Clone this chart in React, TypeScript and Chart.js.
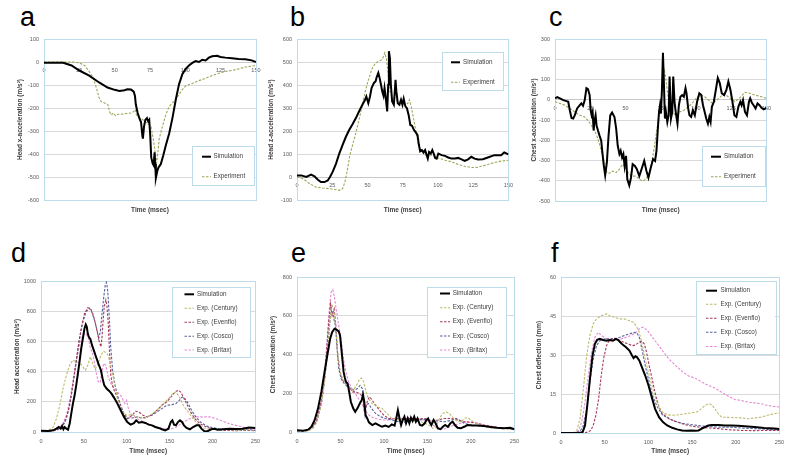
import React, { useEffect, useRef } from 'react';
import { Chart, registerables } from 'chart.js';
Chart.register(...registerables);

type P = [number, number][];
const FONT = "'Liberation Sans', Arial, sans-serif";
Chart.defaults.font.family = FONT;

// ---------- data (time msec, value) ----------
const A_SIM: P = [[0,-3],[13.6,-3],[19.5,-15],[25,-37],[32,-59],[39,-89],[45,-111],[50,-121],[53.4,-126],[57,-123],[59,-119],[61.6,-120],[63.5,-129],[64.4,-148],[65,-185],[66.3,-222],[67.5,-244],[68.7,-262],[69.6,-319],[70,-333],[70.8,-281],[71.7,-252],[72.9,-244],[73.8,-259],[74.5,-252],[75.2,-319],[75.9,-415],[76.9,-441],[77.6,-449],[78.3,-393],[78.7,-444],[79.2,-504],[80.2,-474],[81,-459],[82.7,-444],[84.4,-407],[86.2,-363],[88.6,-311],[90.9,-244],[93.3,-163],[95.6,-96],[98,-52],[100.3,-30],[102.6,-15],[105,-4],[107.3,4],[109.7,0],[112,10],[114.4,7],[116.7,19],[119,25],[122.6,27],[124.9,22],[128.4,19],[133,16],[137.8,13],[142.5,12],[147,7],[150,0]];
const A_EXP: P = [[0,0],[20.6,0],[25,-4],[28.8,-15],[32.3,-44],[34.7,-67],[37,-111],[39,-156],[40.5,-173],[42.9,-178],[45.2,-185],[46.4,-215],[47.6,-230],[49.2,-222],[50.6,-234],[52.3,-227],[54.6,-227],[58,-224],[61.6,-222],[63.5,-215],[64.7,-207],[65.4,-230],[67.5,-241],[71,-256],[73.4,-267],[75.7,-281],[77.3,-333],[78.7,-393],[79.7,-440],[80.6,-393],[81.6,-333],[83.4,-289],[86.2,-230],[88.6,-193],[90.9,-178],[93.3,-163],[95.6,-141],[98,-119],[100.3,-104],[105,-93],[109.7,-81],[114.4,-71],[119,-59],[123.7,-49],[128.4,-41],[133,-37],[137.8,-30],[142.5,-22],[147,-18],[150,-16]];

const B_SIM: P = [[0,7],[3,7],[6.6,0],[10,10],[12.4,3],[14.8,-12],[17,-22],[19.5,-22],[21.8,-15],[23.4,0],[25.3,22],[27.7,58],[30,102],[32.3,139],[34.7,175],[37,204],[39.4,229],[41.7,255],[44,285],[46.4,314],[48.3,336],[49.2,350],[50.6,321],[51.8,350],[52.9,387],[54.6,409],[55.8,416],[56.5,434],[57.7,453],[58.6,431],[59.6,401],[60.5,372],[61.4,353],[62.1,387],[63,343],[64,285],[64.7,401],[65.2,547],[65.9,518],[66.6,401],[67.5,328],[68.7,314],[69.4,372],[69.9,423],[70.5,372],[71.5,321],[72.7,314],[73.8,336],[74.8,314],[75.7,340],[76.9,307],[78,299],[79.2,270],[80.4,226],[81.6,223],[83,204],[84.4,193],[85.5,182],[86.5,139],[87.4,112],[88.6,117],[89.8,107],[90.9,117],[92,95],[92.8,80],[93.7,109],[94.9,102],[96,117],[97,102],[98,83],[99.1,80],[100.3,102],[102.6,95],[105,92],[107.3,85],[109.7,80],[112,80],[114.4,83],[116.7,77],[119,70],[121.4,77],[123.7,88],[126,80],[128.4,76],[131.9,77],[135.4,85],[140,95],[144.8,95],[147,107],[150,98]];
const B_EXP: P = [[0,0],[4.2,-7],[8.9,-29],[13.6,-44],[18.3,-48],[23,-51],[26.5,-54],[30,-58],[32.3,-51],[34,-22],[35.9,36],[37.5,95],[39.4,139],[41.7,190],[44,248],[46.4,314],[48.7,380],[51.1,431],[53.4,474],[55.8,496],[58,504],[60.5,511],[62.3,540],[63.5,511],[64.7,445],[65.9,372],[67.5,350],[69.9,336],[72.2,328],[74.5,321],[76.9,314],[78.7,321],[79.7,336],[81,307],[82.7,255],[84.4,197],[86.2,139],[88.6,109],[90.9,95],[95.6,95],[100.3,83],[105,73],[109.7,66],[114.4,54],[119,47],[123.7,41],[127.2,41],[130.8,47],[135.4,54],[140,63],[144.8,69],[150,73]];

const C_SIM: P = [[0,7],[1.6,13],[3.5,7],[5.9,-2],[8.2,-7],[9.4,-10],[10.5,-52],[11.7,-90],[12.9,-93],[14,-77],[15.7,-43],[17.6,-27],[18.7,-18],[19.9,-30],[21.1,-2],[22.3,57],[23.4,52],[24.6,23],[25.3,-52],[26,-77],[26.7,-60],[27.4,-152],[28.1,-102],[28.8,-77],[29.5,-127],[30.5,-152],[31.6,-177],[32.8,-202],[33.5,-252],[34.5,-318],[35.6,-373],[36.8,-310],[38,-177],[39.2,-77],[40.5,-63],[42.2,-85],[43.4,-143],[44.5,-227],[45.7,-268],[46.6,-252],[47.6,-285],[48.5,-268],[49.4,-327],[50.4,-277],[51.3,-393],[52.7,-423],[53.9,-385],[55.1,-318],[56.7,-327],[58.1,-343],[59.8,-377],[61.4,-343],[63.3,-302],[64.9,-352],[66.3,-385],[68,-335],[69.6,-293],[71,-302],[72,-252],[72.9,-152],[73.8,-60],[74.5,-27],[75.2,-68],[75.9,57],[76.6,232],[77.3,73],[78,-93],[78.7,-60],[79.7,-110],[80.6,-77],[81.3,115],[82.3,-93],[83.2,-60],[83.9,115],[84.8,-10],[85.8,-68],[86.9,-118],[87.9,-27],[89,15],[90.2,23],[91.4,15],[92.6,57],[93.3,32],[94.5,-43],[95.4,-77],[96.6,-85],[97.8,-52],[99.2,-77],[100.8,-10],[102.4,32],[103.8,23],[105,-27],[106.2,-60],[107.3,-93],[108.5,-118],[109.5,-85],[110.4,-110],[111.3,-35],[112.7,-10],[114.1,48],[115.5,107],[116.9,82],[118.3,32],[120,23],[121.6,48],[123,90],[124.5,48],[125.9,-10],[127.3,-77],[128.7,-85],[130.1,-35],[131.5,-10],[132.4,-27],[133.4,-2],[134.8,-60],[136.2,-77],[137.6,-10],[138.5,7],[139.7,-15],[140.9,-27],[142.3,-43],[143.7,-18],[145.1,-27],[146.5,-40],[148.1,-47],[150,-40]];
const C_EXP: P = [[0,-10],[3.5,-18],[7,-27],[10.5,-43],[14,-60],[17.6,-77],[21.1,-85],[23.4,-102],[25.8,-127],[28.1,-152],[30.5,-193],[32.8,-252],[35.2,-310],[36.8,-360],[38.7,-363],[41,-352],[43.4,-360],[45.7,-343],[48,-318],[50.4,-343],[52.7,-368],[55.1,-377],[57.4,-377],[59.8,-393],[62.1,-402],[64.5,-393],[66.8,-360],[69.1,-293],[71,-210],[72.7,-127],[74.3,-43],[75.7,15],[76.9,73],[77.8,140],[78.7,98],[79.9,32],[81.3,-27],[83.2,-60],[85.5,-77],[88.4,-60],[91.4,-52],[94.5,-35],[97.3,-18],[100.1,7],[103.1,23],[106.2,15],[109,-2],[111.8,-18],[114.8,-2],[117.9,18],[120.7,27],[124.2,7],[127.7,-10],[131.2,10],[134.8,37],[138.3,32],[141.8,23],[146.5,15],[150,7]];

const D_SIM: P = [[0,9],[8.4,7],[14.2,11],[18,22],[20.7,33],[23,22],[24.6,40],[26.1,18],[27.6,33],[29.6,22],[31.5,15],[33.4,55],[35.3,122],[37.2,188],[39.2,243],[41.1,310],[43,387],[44.9,465],[46.9,553],[48.8,619],[50.7,686],[52.2,712],[53.4,697],[54.5,653],[55.7,630],[57.6,615],[59.5,575],[61.5,542],[64.1,498],[66.8,454],[69.9,409],[71.8,354],[73.7,310],[76.4,288],[79.5,272],[82.2,254],[85.3,226],[89.1,188],[92.9,144],[96.8,100],[100.6,66],[104.5,49],[108.3,58],[111,77],[114,62],[117.9,66],[121.7,60],[125.6,49],[129.4,44],[133.3,33],[137.1,27],[141,18],[144.8,11],[148.6,22],[151.3,66],[153.2,77],[155.1,49],[157.4,44],[159.7,66],[162,77],[164.4,66],[166.7,44],[169.7,27],[173.6,18],[177.4,33],[181.3,44],[184.3,44],[187,22],[190.8,4],[194.7,7],[198.5,18],[202.3,22],[206.2,15],[211.9,18],[219.5,22],[227.2,20],[234.9,22],[242.6,29],[250,27]];
const D_CEN: P = [[0,4],[8.4,9],[14.2,33],[18,88],[21.9,177],[25.7,288],[29.6,376],[33.4,442],[37.2,476],[41.1,465],[44.9,460],[48.8,431],[51.8,409],[54.5,442],[57.6,498],[60.3,454],[63,416],[66,442],[69.9,509],[73,535],[75.6,527],[78.3,509],[81.4,431],[85.3,332],[89.1,221],[92.9,155],[96.8,122],[100.6,111],[106.4,115],[112.1,100],[119.8,88],[127.5,111],[135.2,144],[142.9,188],[148.6,221],[153.6,254],[157.4,265],[161.3,232],[165.9,177],[171.7,133],[177.4,88],[183.2,49],[189,27],[196.6,18],[206.2,15],[215.8,18],[227.2,11],[238.7,15],[250,11]];
const D_EVE: P = [[0,4],[12.3,7],[18,11],[23.8,33],[27.6,66],[31.5,133],[35.3,243],[39.2,398],[43,553],[46.9,686],[50.7,785],[54.5,823],[57.6,819],[60.3,785],[63,730],[66,653],[68,597],[69.9,564],[71,619],[72.2,719],[73.7,830],[75.6,874],[76.8,841],[78.3,730],[79.9,531],[81.4,376],[83.3,310],[86,265],[89.1,232],[92.9,166],[96.8,111],[100.6,88],[106.4,111],[110.2,137],[114,133],[119,111],[123.6,100],[129.4,115],[135.2,144],[140.9,177],[146.7,199],[152.5,239],[156.3,265],[160.2,277],[162.9,265],[165.9,232],[169.7,188],[174.4,133],[179.4,88],[185.1,55],[192.8,33],[200.5,18],[212,11],[227.2,9],[238.7,11],[250,9]];
const D_COS: P = [[0,7],[12.3,9],[20,18],[25.7,44],[29.6,88],[33.4,177],[37.2,310],[41.1,465],[44.9,619],[48.8,730],[52.6,796],[56.5,819],[59.2,796],[62.3,741],[65.3,675],[67.3,619],[69.2,664],[71,774],[73,885],[74.9,973],[76.4,991],[77.9,929],[79.5,774],[81.4,553],[83.7,398],[86.4,310],[89.1,243],[92.9,177],[96.8,122],[100.6,93],[106.4,93],[112.1,100],[117.9,93],[123.6,100],[129.4,111],[135.2,133],[140.9,155],[146.7,177],[152.5,181],[157.4,188],[161.3,210],[164.7,232],[167.8,221],[171.7,188],[175.5,144],[180.5,100],[185.9,66],[192.8,40],[200.5,27],[212,18],[227.2,15],[238.7,18],[250,11]];
const D_BRI: P = [[0,4],[12.3,9],[20,18],[25.7,55],[29.6,111],[33.4,199],[37.2,332],[41.1,465],[44.9,575],[48.8,642],[52.6,653],[55.3,619],[57.6,553],[59.5,531],[61.5,487],[64.1,398],[66.8,332],[69.1,327],[71,398],[73,454],[75.6,442],[78.3,365],[81.4,321],[85.3,288],[89.1,265],[92.9,243],[95.9,210],[97.9,188],[99.8,210],[101.4,166],[103.3,133],[106.4,111],[112.1,88],[119.8,66],[127.5,49],[135.2,33],[142.9,22],[150.5,18],[158.2,33],[165.9,66],[173.6,88],[181.3,100],[188.9,100],[196.6,100],[204.3,88],[212,71],[219.7,55],[227.3,44],[235,33],[242.6,22],[250,18]];

const E_SIM: P = [[0,9],[7.2,7],[12.8,12],[16.6,27],[20.4,62],[24.2,122],[28,207],[31.7,310],[35.5,413],[38.1,481],[40.4,515],[43.1,533],[45.7,527],[48,519],[49.5,498],[51,430],[52.5,361],[53.6,310],[55.1,279],[56.3,259],[58.2,250],[60,207],[61.9,156],[64.6,122],[66.9,104],[69.5,122],[72.2,147],[74.4,164],[75.9,193],[77.4,156],[78.9,87],[80.8,70],[82.7,50],[86.5,36],[90.3,45],[94,36],[97.8,27],[101.6,33],[105.4,26],[109.1,39],[112.2,33],[114.1,70],[116,113],[117.9,70],[119.7,36],[121.6,62],[123.5,79],[125.4,45],[127.3,70],[129.2,45],[131,74],[132.9,57],[134.8,79],[136.7,53],[138.6,70],[141.3,36],[143.9,33],[146.9,45],[148.8,62],[150.7,70],[152.6,50],[154.5,36],[157.1,62],[159.4,45],[162,19],[165.1,15],[167.7,27],[170.4,36],[173.4,27],[176.4,45],[179,53],[181.6,36],[184.7,22],[188.4,19],[192.2,27],[196,36],[201.7,33],[207.3,33],[214.9,31],[222.4,26],[230,22],[237.5,19],[245.1,22],[250,14]];
const E_CEN: P = [[0,5],[11,5],[16.6,15],[22.3,45],[28,139],[31.7,259],[35.5,430],[38.1,584],[40,661],[41.9,635],[44.2,550],[46.8,413],[49.5,310],[52.5,276],[56.3,250],[60,233],[63.8,216],[67.6,233],[71.4,267],[74,279],[76.7,259],[78.9,216],[82,173],[86.5,147],[92.2,130],[97.8,122],[103.5,96],[109.1,70],[116.7,62],[126.1,62],[135.6,57],[145,50],[152.6,33],[156.3,19],[160.1,27],[163.9,70],[167.7,96],[171.5,104],[175.2,96],[180.2,70],[184.7,53],[189.2,53],[192.2,70],[196,74],[199.8,62],[205.5,45],[213,33],[222.4,22],[233.8,19],[250,14]];
const E_EVE: P = [[0,5],[11,7],[16.6,19],[22.3,53],[28,156],[31.7,276],[34.5,447],[36.7,584],[38.6,661],[40.4,601],[42.8,635],[45,533],[46.8,396],[49.5,310],[52.5,267],[56.3,250],[60,233],[63.8,207],[67.6,207],[71.4,199],[74,190],[75.9,173],[77.4,104],[78.9,122],[81.2,164],[83.5,182],[86.5,164],[90.3,139],[94.8,113],[99.7,87],[105.4,70],[113,70],[120.5,67],[128.1,70],[137.5,67],[147,70],[154.5,57],[162,62],[169.6,70],[177.2,70],[184.7,62],[192.2,53],[199.8,50],[207.3,45],[214.9,36],[226.2,26],[237.5,19],[250,14]];
const E_COS: P = [[0,5],[12.8,7],[18.5,22],[24.2,70],[29.1,173],[32.8,310],[35.5,447],[37.4,550],[39.3,635],[41.2,610],[42.8,575],[44.2,550],[46.1,430],[48,327],[50.6,276],[54.4,250],[58.2,233],[61.9,224],[65.7,216],[69.5,224],[72.5,241],[75.2,224],[76.7,147],[78.2,87],[79.7,139],[82,147],[85.7,122],[90.3,96],[95.9,79],[101.6,70],[109.1,62],[116.7,53],[124.2,50],[131.8,57],[139.4,62],[146.9,65],[154.5,57],[162,57],[169.6,53],[177.2,60],[182.8,70],[186.6,62],[192.2,45],[199.8,36],[207.3,33],[218.7,27],[230,22],[250,15]];
const E_BRI: P = [[0,5],[11,9],[16.6,22],[22.3,62],[28,173],[31.7,310],[34.8,481],[37.4,652],[39.3,721],[41.2,735],[43.1,695],[45,635],[48,550],[50.6,481],[53.3,378],[56.3,310],[59.3,259],[63.1,224],[66.9,199],[70.6,173],[75.2,139],[79.7,104],[84.6,79],[90.3,70],[97.8,62],[105.4,62],[112.9,67],[120.5,70],[128.1,74],[135.6,70],[143.2,65],[150.7,57],[156.3,36],[162,19],[167.7,14],[173.4,22],[181,36],[188.4,45],[196,53],[203.5,50],[211.1,39],[218.7,33],[230,24],[241.3,19],[250,14]];

const F_SIM: P = [[0,0],[21.8,0],[24.8,0.4],[27.5,2.9],[30.1,10.6],[33.1,20.8],[36.1,29.8],[38.8,34.3],[41.4,35.8],[44.4,36.2],[48.2,35.8],[52,35.5],[55.7,35.8],[59.5,35.5],[62.5,36.2],[65.2,35.8],[67.8,34.9],[70.8,33.9],[74.5,33],[78.3,31.7],[81.3,29.8],[83.1,28.8],[85.1,29.5],[86.9,29.2],[89.6,27.9],[92.6,25.3],[96.4,22.1],[100.2,18.3],[103.9,13.8],[107.7,9.3],[112.2,6.1],[116.7,4.2],[121.6,2.9],[127.3,2],[132.9,1.4],[138.6,1],[144.2,0.9],[149.9,1],[153.6,0.9],[157.4,1],[161.1,1.7],[164.9,2.3],[168.7,2.9],[172.4,3.1],[180,3.1],[187.5,2.9],[195,2.9],[202.6,2.8],[210.1,2.6],[221.4,2.3],[232.7,1.9],[244,1.7],[250,1.5]];
const F_CEN: P = [[0,0],[14.3,0.1],[18.1,1],[21.8,5.5],[25.6,17],[29.4,29.8],[33.1,37.5],[36.9,42],[40.7,43.9],[46.4,45.1],[52,45.8],[55.7,45.1],[61.4,44.5],[67,43.9],[72.7,43.9],[78.3,43.2],[82.8,42.6],[85.8,41.3],[88.9,39.4],[91.5,36.2],[94.1,32.4],[97.2,27.2],[100.9,22.1],[104.7,17.6],[108.4,13.2],[112.2,10],[116,8.1],[121.6,7],[127.3,6.8],[134.8,7],[142.3,7.4],[149.9,7.8],[155.5,8.1],[160.4,9.3],[164.9,10.6],[169.4,11.3],[172.4,10.9],[176.2,9.3],[180,7.4],[183.7,6.1],[191.3,6],[198.8,5.9],[206.3,5.8],[213.9,5.5],[221.4,5.8],[228.9,6.1],[236.4,6.8],[244,7.4],[250,7.8]];
const F_EVE: P = [[0,0],[25.6,0],[31.3,0.4],[34,1],[37,3],[40,7],[43,13],[46,22],[49,29],[52,33.5],[55,35.5],[58,36.2],[61.4,36.4],[65.1,36],[70,35.2],[76,34.3],[82,33.6],[85,33.8],[89,34.8],[92.3,35.3],[95.3,34.3],[97.9,31.1],[100.9,26],[104.7,20.2],[108.4,14.5],[112.2,10],[116,7.4],[121.6,6.1],[127.3,4.9],[134.8,4],[142.3,3.2],[149.9,2.6],[157.4,2.3],[164.9,2],[172.4,1.9],[180,1.7],[187.5,1.4],[195,1.2],[206.3,1],[221.4,0.9],[236.4,1],[250,1]];
const F_COS: P = [[0,0],[16.2,0.1],[21.8,0.6],[25.6,2.9],[29.4,9.3],[33.1,19.6],[36.9,28.5],[40.7,33.6],[44.4,35.5],[50.1,36.2],[55.7,36.2],[61.4,36.2],[67,36.8],[72.7,37.5],[78.3,38.1],[84,38.7],[87,38.5],[89.6,36.8],[92.6,32.4],[96.4,26],[100.9,19.6],[105.4,13.8],[110.3,10],[116,7],[123.5,5.5],[131,4.5],[140.4,3.6],[149.9,3.2],[161.1,2.7],[172.4,2.4],[183.7,2.2],[195,2.2],[206.3,1.9],[221.4,1.7],[236.4,1.4],[250,1.2]];
const F_BRI: P = [[0,0],[16.2,0.1],[20,1],[23.7,4.2],[27.5,11.9],[31.3,22.1],[35,31.1],[38.8,36.8],[42.5,38.7],[46.3,37.5],[52,36.2],[57.6,35.8],[63.3,35.5],[68.9,36.2],[74.5,36.8],[80.2,37.5],[85.8,38.7],[90.4,40.3],[94.1,40.7],[99,39.4],[104.7,36.8],[110.4,34.3],[116,31.7],[123.5,28.5],[131.1,26],[138.6,23.7],[146.1,21.9],[153.6,21.1],[161.1,19.6],[168.7,18.3],[176.2,17.3],[183.7,15.7],[191.3,14.2],[198.8,12.9],[206.3,12.5],[213.9,11.9],[221.4,11.6],[228.9,11.3],[236.4,10.6],[244,10.2],[250,10]];

// ---------- labels ----------
const X_TITLE = 'Time (msec)';
const Y_TITLES = ['Head x-acceleration (m/s²)', 'Head z-acceleration (m/s²)', 'Chest x-acceleration (m/s²)', 'Head acceleration (m/s²)', 'Chest acceleration (m/s²)', 'Chest deflection (mm)'];
const PANEL_LETTERS = ['a', 'b', 'c', 'd', 'e', 'f'];
const NAMES_2 = ['Simulation', 'Experiment'];
const NAMES_5 = ['Simulation', 'Exp. (Century)', 'Exp. (Evenflo)', 'Exp. (Cosco)', 'Exp. (Britax)'];
const Y_RANGES: [number, number, number][] = [[-600, 100, 100], [-100, 600, 100], [-500, 300, 100], [0, 1000, 200], [0, 800, 200], [0, 60, 15]];

// ---------- styles ----------
const STYLE_SIM = { color: '#000000', width: 2, dash: [] as number[] };
const STYLE_EXP = { color: '#9aa85a', width: 1.1, dash: [2.5, 1.5] };
const STYLE_CEN = { color: '#bdbb6c', width: 1.1, dash: [2.5, 1.5] };
const STYLE_EVE = { color: '#a8385a', width: 1.1, dash: [2.5, 1.5] };
const STYLE_COS = { color: '#55609e', width: 1.1, dash: [2.5, 1.5] };
const STYLE_BRI = { color: '#e48ad6', width: 1.1, dash: [2.5, 1.5] };

type Layout = { L: number; T: number; W: number; H: number; padTop: number; padRight: number; yw: number; xh: number; top: boolean; xmax: number; xstep: number; xpad: number;
  legend: { box: number[]; items: number[]; line: number[]; text: number }; letter: [number, number] };

const LAYOUTS: Layout[] = [
  { L: 14, T: 30, W: 252, H: 186, padTop: 9, padRight: 8, yw: 30, xh: 16, top: true, xmax: 150, xstep: 25, xpad: 5.5,
    legend: { box: [192, 146, 254, 185], items: [156.7, 176.7], line: [202, 211], text: 213.5 }, letter: [20, 4] },
  { L: 265, T: 30, W: 253, H: 186, padTop: 9, padRight: 8, yw: 32, xh: 16, top: true, xmax: 150, xstep: 25, xpad: 5,
    legend: { box: [442, 52, 503, 90], items: [62.3, 82.3], line: [451, 460], text: 463 }, letter: [290, 4] },
  { L: 528, T: 30, W: 248, H: 186, padTop: 9, padRight: 8, yw: 27, xh: 15, top: true, xmax: 150, xstep: 25, xpad: 5,
    legend: { box: [702, 146, 765, 186], items: [156.7, 176.7], line: [711, 721], text: 724 }, letter: [549, 4] },
  { L: 11, T: 272, W: 255, H: 185, padTop: 9, padRight: 8, yw: 30, xh: 25, top: false, xmax: 250, xstep: 50, xpad: 6,
    legend: { box: [172, 287, 250, 357], items: [294.3, 308.3, 322.3, 336.3, 350], line: [184.5, 194], text: 197 }, letter: [11, 240] },
  { L: 267, T: 268, W: 258, H: 189, padTop: 9, padRight: 8, yw: 30, xh: 25, top: false, xmax: 250, xstep: 50, xpad: 6,
    legend: { box: [427, 287, 506, 357], items: [293.5, 307.7, 321.7, 336, 350], line: [440, 450], text: 452.7 }, letter: [291, 240] },
  { L: 533, T: 268, W: 257, H: 189, padTop: 9, padRight: 8, yw: 28, xh: 24, top: false, xmax: 250, xstep: 50, xpad: 6,
    legend: { box: [695.5, 281, 775, 354], items: [290.7, 304.3, 318.3, 332.3, 346.5], line: [706, 717], text: 720.5 }, letter: [551, 240] },
];

const SERIES: { data: P; name: string; style: typeof STYLE_SIM }[][] = [
  [{ data: A_SIM, name: NAMES_2[0], style: STYLE_SIM }, { data: A_EXP, name: NAMES_2[1], style: STYLE_EXP }],
  [{ data: B_SIM, name: NAMES_2[0], style: STYLE_SIM }, { data: B_EXP, name: NAMES_2[1], style: STYLE_EXP }],
  [{ data: C_SIM, name: NAMES_2[0], style: STYLE_SIM }, { data: C_EXP, name: NAMES_2[1], style: STYLE_EXP }],
  [{ data: D_SIM, name: NAMES_5[0], style: STYLE_SIM }, { data: D_CEN, name: NAMES_5[1], style: STYLE_CEN }, { data: D_EVE, name: NAMES_5[2], style: STYLE_EVE }, { data: D_COS, name: NAMES_5[3], style: STYLE_COS }, { data: D_BRI, name: NAMES_5[4], style: STYLE_BRI }],
  [{ data: E_SIM, name: NAMES_5[0], style: STYLE_SIM }, { data: E_CEN, name: NAMES_5[1], style: STYLE_CEN }, { data: E_EVE, name: NAMES_5[2], style: STYLE_EVE }, { data: E_COS, name: NAMES_5[3], style: STYLE_COS }, { data: E_BRI, name: NAMES_5[4], style: STYLE_BRI }],
  [{ data: F_SIM, name: NAMES_5[0], style: STYLE_SIM }, { data: F_CEN, name: NAMES_5[1], style: STYLE_CEN }, { data: F_EVE, name: NAMES_5[2], style: STYLE_EVE }, { data: F_COS, name: NAMES_5[3], style: STYLE_COS }, { data: F_BRI, name: NAMES_5[4], style: STYLE_BRI }],
];

const TICK_FONT = { size: 5.5, family: FONT };
const TITLE_FONT = { size: 6.5, family: FONT, weight: 'bold' as const };
const TICK_COLOR = '#595959';
const TITLE_COLOR = '#404040';

const framePlugin = {
  id: 'frame',
  beforeDatasetsDraw(chart: any) {
    const { left, top, right, bottom } = chart.chartArea;
    const ctx = chart.ctx;
    ctx.save();
    ctx.strokeStyle = '#bcdcea';
    ctx.lineWidth = 1;
    ctx.strokeRect(Math.round(left) + 0.5, Math.round(top) + 0.5, Math.round(right - left), Math.round(bottom - top));
    ctx.restore();
  },
};

const legendPlugin = {
  id: 'boxLegend',
  afterDatasetsDraw(chart: any, _args: any, opts: any) {
    if (!opts || !opts.box) return;
    const ctx = chart.ctx;
    const [x0, y0, x1, y1] = opts.box;
    ctx.save();
    ctx.fillStyle = '#ffffff';
    ctx.fillRect(x0, y0, x1 - x0, y1 - y0);
    ctx.strokeStyle = '#bcdcea';
    ctx.lineWidth = 1;
    ctx.strokeRect(Math.round(x0) + 0.5, Math.round(y0) + 0.5, Math.round(x1 - x0), Math.round(y1 - y0));
    chart.data.datasets.forEach((ds: any, i: number) => {
      const y = opts.items[i];
      ctx.beginPath();
      ctx.setLineDash(ds.borderDash || []);
      ctx.strokeStyle = ds.borderColor;
      ctx.lineWidth = ds.borderWidth;
      ctx.moveTo(opts.line[0], y);
      ctx.lineTo(opts.line[1], y);
      ctx.stroke();
      ctx.setLineDash([]);
      ctx.fillStyle = '#404040';
      ctx.font = `6.3px ${FONT}`;
      ctx.textBaseline = 'middle';
      ctx.textAlign = 'left';
      ctx.fillText(ds.label, opts.text, y);
    });
    ctx.restore();
  },
};

function Panel({ idx }: { idx: number }) {
  const ref = useRef<HTMLCanvasElement>(null);
  const lay = LAYOUTS[idx];
  useEffect(() => {
    const [ymin, ymax, ystep] = Y_RANGES[idx];
    const datasets = SERIES[idx].map((s) => ({
      label: s.name,
      data: s.data.map(([x, y]) => ({ x, y })),
      borderColor: s.style.color,
      borderWidth: s.style.width,
      borderDash: s.style.dash,
      pointRadius: 0,
      tension: 0,
      fill: false,
    }));
    const xTitle = { display: true, text: X_TITLE, color: TITLE_COLOR, font: TITLE_FONT, padding: { top: 0, bottom: 2 } };
    const scales: any = {
      x: {
        type: 'linear', min: 0, max: lay.xmax,
        position: lay.top ? { y: 0 } : 'bottom',
        ticks: { stepSize: lay.xstep, font: TICK_FONT, color: TICK_COLOR, padding: lay.xpad, maxRotation: 0, autoSkip: false, callback: (v: any) => String(v) },
        grid: { display: false, drawTicks: false },
        border: { display: lay.top, color: '#c8c8c8' },
        title: lay.top ? { display: false } : xTitle,
        afterFit: lay.top ? undefined : (s: any) => { s.height = lay.xh; },
      },
      y: {
        type: 'linear', min: ymin, max: ymax,
        ticks: { stepSize: ystep, font: TICK_FONT, color: TICK_COLOR, padding: 5, callback: (v: any) => String(v) },
        grid: { color: '#d9d9d9', drawTicks: false },
        border: { display: false },
        title: { display: true, text: Y_TITLES[idx], color: TITLE_COLOR, font: TITLE_FONT, padding: { top: 2, bottom: 0 } },
        afterFit: (s: any) => { s.width = lay.yw; },
      },
    };
    if (lay.top) {
      scales.xb = {
        type: 'linear', min: 0, max: lay.xmax, position: 'bottom',
        ticks: { display: false }, grid: { display: false, drawTicks: false }, border: { display: false },
        title: xTitle,
        afterFit: (s: any) => { s.height = lay.xh; },
      };
    }
    const lg = lay.legend;
    const chart = new Chart(ref.current as HTMLCanvasElement, {
      type: 'line',
      data: { datasets },
      options: {
        responsive: false,
        animation: false,
        layout: { padding: { top: lay.padTop, right: lay.padRight, left: 0, bottom: 0 } },
        scales,
        plugins: {
          legend: { display: false },
          tooltip: { enabled: false },
          boxLegend: {
            box: [lg.box[0] - lay.L, lg.box[1] - lay.T, lg.box[2] - lay.L, lg.box[3] - lay.T],
            items: lg.items.map((v) => v - lay.T),
            line: lg.line.map((v) => v - lay.L),
            text: lg.text - lay.L,
          },
        } as any,
      },
      plugins: [framePlugin, legendPlugin],
    });
    return () => chart.destroy();
  }, []);
  return (
    <canvas ref={ref} width={lay.W} height={lay.H}
      style={{ position: 'absolute', left: lay.L, top: lay.T, width: lay.W, height: lay.H }} />
  );
}

export default function App() {
  return (
    <div style={{ position: 'absolute', left: 0, top: 0, width: 800, height: 466, background: '#ffffff', overflow: 'hidden' }}>
      {LAYOUTS.map((lay, i) => (
        <div key={'l' + i} style={{ position: 'absolute', left: lay.letter[0], top: lay.letter[1], font: `27px/27px ${FONT}`, color: '#000' }}>
          {PANEL_LETTERS[i]}
        </div>
      ))}
      {LAYOUTS.map((_, i) => <Panel key={i} idx={i} />)}
    </div>
  );
}
